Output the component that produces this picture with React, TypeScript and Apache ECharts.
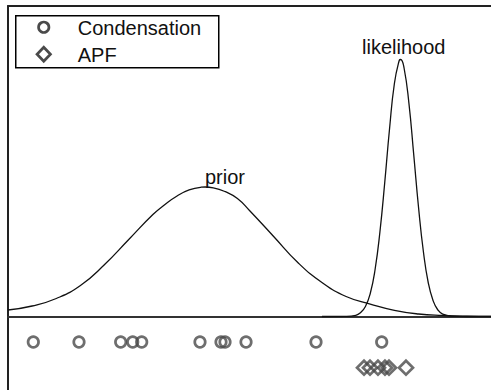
import React, { useEffect, useRef } from "react";
import * as echarts from "echarts";

// x positions (arbitrary units, plot spans 0..10), heights (0 = baseline)
const priorX = [0, 0.5, 1, 1.5, 2, 2.5, 3, 3.25, 3.5, 3.75, 4, 4.08, 4.25, 4.5, 4.75, 5, 5.5, 6, 6.5, 7, 7.5, 8, 8.5, 9, 9.5, 10];
const priorY = [0.065, 0.105, 0.18, 0.31, 0.52, 0.77, 1.02, 1.12, 1.205, 1.266, 1.293, 1.295, 1.287, 1.248, 1.18, 1.06, 0.8, 0.54, 0.34, 0.2, 0.125, 0.062, 0.025, 0.01, 0.003, 0.001];

const likeX = [6.5, 7.0, 7.2, 7.3, 7.4, 7.5, 7.6, 7.7, 7.8, 7.9, 8.0, 8.1, 8.13, 8.2, 8.3, 8.4, 8.5, 8.6, 8.7, 8.8, 8.9, 9.0, 9.2, 9.5, 10];
const likeY = [0, 0.001, 0.012, 0.04, 0.1, 0.23, 0.47, 0.845, 1.34, 1.88, 2.33, 2.56, 2.57, 2.485, 2.135, 1.62, 1.09, 0.65, 0.34, 0.16, 0.065, 0.024, 0.004, 0, 0];

const condensationX = [0.524, 1.47, 2.333, 2.582, 2.768, 3.975, 4.41, 4.493, 4.928, 6.377, 7.737];
const condensationRow = -0.255;
const apfX = [7.371, 7.495, 7.66, 7.805, 7.888, 8.24];
const apfRow = -0.512;

const legendNames = ["Condensation", "APF"];
const curveLabels = ["prior", "likelihood"];

const FONT = "'Liberation Sans', Arial, Helvetica, sans-serif";
const MARK = "#4a4a4a";

export default function App() {
  const ref = useRef<HTMLDivElement>(null);
  useEffect(() => {
    if (!ref.current) return;
    const chart = echarts.init(ref.current, undefined, { renderer: "svg" });
    const axisCommon = {
      type: "value" as const,
      min: 0,
      max: 10,
      axisTick: { show: false },
      axisLabel: { show: false },
      splitLine: { show: false },
    };
    chart.setOption({
      animation: false,
      backgroundColor: "#ffffff",
      grid: { left: 8, right: 0, top: 6, bottom: 0 },
      xAxis: [
        {
          ...axisCommon,
          position: "bottom",
          axisLine: { show: true, onZero: true, lineStyle: { color: "#333", width: 2 } },
        },
        {
          ...axisCommon,
          position: "top",
          axisLine: { show: true, onZero: false, lineStyle: { color: "#222", width: 2 } },
        },
      ],
      yAxis: {
        type: "value",
        min: -0.735,
        max: 3.105,
        axisLine: { show: true, lineStyle: { color: "#222", width: 2 } },
        axisTick: { show: false },
        axisLabel: { show: false },
        splitLine: { show: false },
      },
      series: [
        {
          type: "line",
          name: "prior",
          data: priorX.map((x, i) => [x, priorY[i]]),
          showSymbol: false,
          smooth: 0.5,
          lineStyle: { color: "#111", width: 1.3 },
          z: 3,
        },
        {
          type: "line",
          name: "likelihood",
          data: likeX.map((x, i) => [x, likeY[i]]),
          showSymbol: false,
          smooth: 0.5,
          lineStyle: { color: "#111", width: 1.3 },
          z: 3,
        },
        {
          type: "scatter",
          name: legendNames[0],
          data: condensationX.map((x) => [x, condensationRow]),
          symbol: "circle",
          symbolSize: 10.5,
          itemStyle: { color: "rgba(0,0,0,0)", borderColor: MARK, borderWidth: 2.7 },
          z: 4,
        },
        {
          type: "scatter",
          name: legendNames[1],
          data: apfX.map((x) => [x, apfRow]),
          symbol: "diamond",
          symbolSize: 14,
          itemStyle: { color: "rgba(0,0,0,0)", borderColor: MARK, borderWidth: 2.7 },
          z: 4,
        },
      ],
      graphic: [
        {
          type: "text",
          left: 205,
          top: 167,
          style: { text: curveLabels[0], font: `20px ${FONT}`, fill: "#111" },
        },
        {
          type: "text",
          left: 362,
          top: 37,
          style: { text: curveLabels[1], font: `20px ${FONT}`, fill: "#111" },
        },
        {
          type: "group",
          left: 15,
          top: 15,
          children: [
            {
              type: "rect",
              shape: { x: 0, y: 0, width: 203, height: 52 },
              style: { fill: "#fff", stroke: "#000", lineWidth: 1.5 },
            },
            {
              type: "circle",
              shape: { cx: 28, cy: 11.5, r: 5.2 },
              style: { fill: "none", stroke: MARK, lineWidth: 2.7 },
            },
            {
              type: "polygon",
              shape: { points: [[28, 31.5], [34.7, 38.5], [28, 45.5], [21.3, 38.5]] },
              style: { fill: "none", stroke: MARK, lineWidth: 2.7 },
            },
            {
              type: "text",
              x: 62,
              y: 12,
              style: { text: legendNames[0], font: `20px ${FONT}`, fill: "#111", verticalAlign: "middle" },
            },
            {
              type: "text",
              x: 62,
              y: 39,
              style: { text: legendNames[1], font: `20px ${FONT}`, fill: "#111", verticalAlign: "middle" },
            },
          ],
        },
      ],
    });
    return () => chart.dispose();
  }, []);
  return <div ref={ref} style={{ width: 491, height: 390, position: "absolute", left: 0, top: 0 }} />;
}
